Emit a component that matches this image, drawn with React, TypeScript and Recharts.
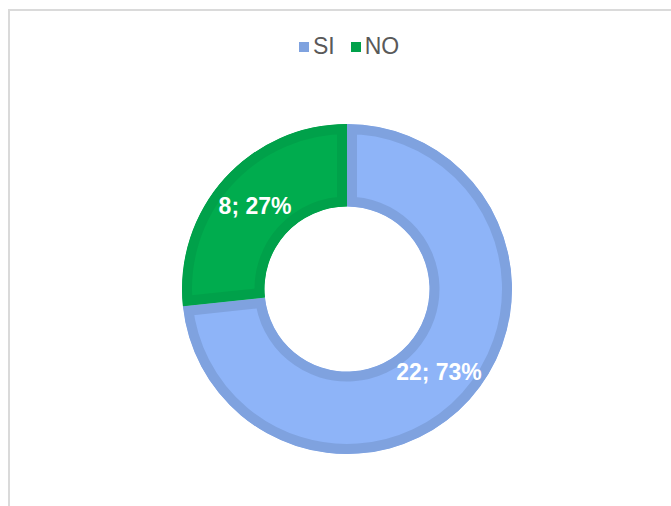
import { PieChart, Pie, Legend } from "recharts";

const categories = ["SI", "NO"];
const counts = [22, 8];
const fillColors = ["#8EB4F8", "#00AC4E"];
const edgeColors = ["#7FA2DF", "#00A14A"];

const RADIAN = Math.PI / 180;

const pieData = categories.map((name, i) => ({
    name,
    value: counts[i],
    fill: fillColors[i],
    stroke: edgeColors[i],
}));

function sectorPath(cx: number, cy: number, ri: number, ro: number, sa: number, ea: number) {
    const pt = (r: number, a: number) => [cx + r * Math.cos(a * RADIAN), cy - r * Math.sin(a * RADIAN)];
    const delta = ea - sa;
    const large = Math.abs(delta) > 180 ? 1 : 0;
    const sweep = delta < 0 ? 1 : 0;
    const [x1, y1] = pt(ro, sa);
    const [x2, y2] = pt(ro, ea);
    const [x3, y3] = pt(ri, ea);
    const [x4, y4] = pt(ri, sa);
    return `M${x1},${y1} A${ro},${ro} 0 ${large} ${sweep} ${x2},${y2} L${x3},${y3} A${ri},${ri} 0 ${large} ${1 - sweep} ${x4},${y4} Z`;
}

// slice with its border drawn on the inside only
const renderSlice = (props: any) => {
    const { cx, cy, innerRadius, outerRadius, startAngle, endAngle, index } = props;
    const d = sectorPath(cx, cy, innerRadius, outerRadius, startAngle, endAngle);
    const id = `slice-clip-${index}`;
    return (
        <g>
            <clipPath id={id}>
                <path d={d} />
            </clipPath>
            <path d={d} fill={fillColors[index]} stroke={edgeColors[index]} strokeWidth={20} clipPath={`url(#${id})`} />
        </g>
    );
};

const renderLabel = (props: any) => {
    const { cx, cy, midAngle, innerRadius, outerRadius, value, percent } = props;
    const r = (innerRadius + outerRadius) / 2;
    const x = cx + r * Math.cos(-midAngle * RADIAN);
    const y = cy + r * Math.sin(-midAngle * RADIAN);
    return (
        <text x={x} y={y} dy={8} fill="#ffffff" textAnchor="middle"
            style={{ fontFamily: "'Liberation Sans', Arial, sans-serif", fontSize: 23, fontWeight: 700 }}>
            {`${value}; ${Math.round(percent * 100)}%`}
        </text>
    );
};

const renderLegend = () => (
    <div style={{ display: 'flex', alignItems: 'center', fontFamily: "'Liberation Sans', Arial, sans-serif", fontSize: 23, lineHeight: '23px', color: '#595959' }}>
        {categories.map((c, i) => (
            <div key={c} style={{ display: 'flex', alignItems: 'center', marginRight: 16 }}>
                <span style={{ display: 'inline-block', width: 10, height: 10, background: edgeColors[i], marginRight: 4 }} />
                <span>{c}</span>
            </div>
        ))}
    </div>
);

export default function App() {
    return (
        <div style={{ position: 'fixed', left: 0, top: 0, width: 671, height: 506, background: '#fff', overflow: 'hidden' }}>
            <style>{"body{overflow:hidden}"}</style>
            <div style={{ position: 'absolute', left: 8, top: 9, width: 700, height: 540, border: '2px solid #dadada', boxSizing: 'border-box' }} />
            <div style={{ position: 'absolute', left: 0, top: 0 }}>
                <PieChart width={671} height={506} margin={{ top: 0, right: 0, bottom: 0, left: 0 }}>
                    <Legend layout="horizontal" verticalAlign="middle" align="center"
                        wrapperStyle={{ top: 35, left: 299, width: 200 }} content={renderLegend} />
                    <Pie
                        data={pieData}
                        dataKey="value"
                        nameKey="name"
                        cx={347}
                        cy={289}
                        innerRadius={82.5}
                        outerRadius={165}
                        startAngle={90}
                        endAngle={-270}
                        shape={renderSlice}
                        label={renderLabel}
                        labelLine={false}
                        isAnimationActive={false}
                    />
                </PieChart>
            </div>
        </div>
    );
}
